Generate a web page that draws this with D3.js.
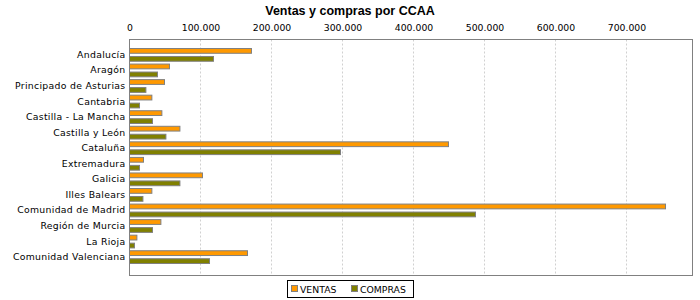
<!DOCTYPE html>
<html><head><meta charset="utf-8">
<script src="https://cdn.jsdelivr.net/npm/d3@7/dist/d3.min.js"></script>
<style>body{margin:0;background:#fff}svg{display:block}</style>
</head><body><svg id="c" width="700" height="300"></svg>
<script>
const categories = ["Andalucía","Aragón","Principado de Asturias","Cantabria","Castilla - La Mancha","Castilla y León","Cataluña","Extremadura","Galicia","Illes Balears","Comunidad de Madrid","Región de Murcia","La Rioja","Comunidad Valenciana"];
const seriesNames = ["VENTAS","COMPRAS"];
const ventas = [171800,56300,49300,31500,45600,71000,449300,19700,102800,31500,755000,44200,10400,166200];
const compras = [118300,39400,23100,14100,32400,51300,297200,14100,71000,18900,487300,32400,7000,112700];
const tickValues = [0,100000,200000,300000,400000,500000,600000,700000];
const tickLabels = ["0","100.000","200.000","300.000","400.000","500.000","600.000","700.000"];
const colors = ["#FF9900","#808000"];

const svg = d3.select("#c");
const L = 129.5, R = 692.5, T = 39.5, B = 275.5;
const x = d3.scaleLinear().domain([0, 793000]).range([L, R]);
const y = d3.scaleBand().domain(categories).range([48.5, 263.5]).paddingInner(0.18);
const ys = d3.scaleBand().domain(seriesNames).range([0, y.bandwidth()]).paddingInner(0.4);

svg.append("text").attr("x", 350).attr("y", 15).attr("text-anchor","middle")
  .attr("font-family","Liberation Sans").attr("font-weight","bold").attr("font-size",12.5).text("Ventas y compras por CCAA");

// gridlines
svg.append("g").selectAll("line").data(tickValues.slice(1)).join("line")
  .attr("x1", d=>Math.round(x(d))+0.5).attr("x2", d=>Math.round(x(d))+0.5).attr("y1", T).attr("y2", B)
  .attr("stroke","#d0d0d0").attr("stroke-dasharray","2,2");

// top axis
const xa = d3.axisTop(x).tickValues(tickValues).tickFormat((d,i)=>tickLabels[i]).tickSize(0).tickPadding(0);
const gx = svg.append("g").attr("transform",`translate(0,31)`).call(xa);
gx.select(".domain").remove();
gx.selectAll("text").attr("font-family","DejaVu Sans").attr("font-size",9.3).attr("fill","#000");

// bars
const data = categories.map((c,i)=>({c, vals:[ventas[i], compras[i]]}));
const gb = svg.append("g");
data.forEach(d=>{
  seriesNames.forEach((s,j)=>{
    gb.append("rect").attr("x", x(0)).attr("y", y(d.c)+ys(s))
      .attr("width", x(d.vals[j])-x(0)).attr("height", ys.bandwidth())
      .attr("fill", colors[j]).attr("stroke","#808080").attr("stroke-width",1);
  });
});

// plot outline
svg.append("rect").attr("x",L).attr("y",T).attr("width",R-L).attr("height",B-T)
  .attr("fill","none").attr("stroke","#808080");

// left axis
const ya = d3.axisLeft(y).tickSize(0).tickPadding(4);
const gy = svg.append("g").attr("transform",`translate(${L},0)`).call(ya);
gy.select(".domain").remove();
gy.selectAll("text").attr("font-family","DejaVu Sans").attr("font-size",9.3).attr("fill","#000").attr("letter-spacing","0.3px");

// legend
const lg = svg.append("g");
lg.append("rect").attr("x",287.5).attr("y",280.5).attr("width",126).attr("height",17).attr("fill","#fff").attr("stroke","#000");
const lx = [291, 351];
seriesNames.forEach((s,j)=>{
  lg.append("rect").attr("x",lx[j]+0.5).attr("y",285.5).attr("width",6).attr("height",6).attr("fill",colors[j]).attr("stroke","#808080");
  lg.append("text").attr("x",lx[j]+9).attr("y",292.5).attr("font-family","DejaVu Sans").attr("font-size",9.3).text(s);
});
</script></body></html>
